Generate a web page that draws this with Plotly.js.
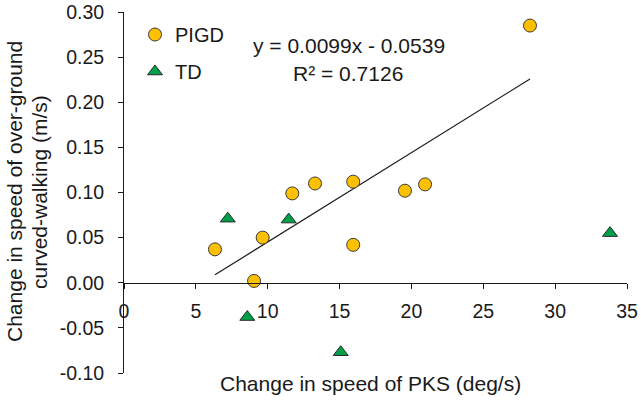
<!DOCTYPE html>
<html>
<head>
<meta charset="utf-8">
<script src="https://cdn.plot.ly/plotly-3.0.1.min.js"></script>
<style>html,body{margin:0;padding:0;background:#fff;}#chart{width:641px;height:400px;}</style>
</head>
<body>
<div id="chart"></div>
<script>
// ---- data ----
var pigdX = [6.33, 9.05, 9.65, 11.71, 13.29, 15.95, 15.95, 19.55, 20.95, 28.25];
var pigdY = [0.037, 0.002, 0.050, 0.099, 0.110, 0.112, 0.042, 0.102, 0.109, 0.285];
var tdX = [7.22, 8.58, 11.46, 15.08, 33.82];
var tdY = [0.071, -0.038, 0.070, -0.077, 0.055];
var slope = 0.0099;
var intercept = -0.0539;
var rSquared = 0.7126;
var seriesNames = ["PIGD", "TD"];
var yTickVals = [-0.10, -0.05, 0.00, 0.05, 0.10, 0.15, 0.20, 0.25, 0.30];
var yTickText = ["-0.10", "-0.05", "0.00", "0.05", "0.10", "0.15", "0.20", "0.25", "0.30"];
var xTitle = "Change in speed of PKS (deg/s)";
var yTitleLines = ["Change in speed of over-ground", "curved-walking (m/s)"];

// trend line across the PIGD x range, from the reported fit
var trendX = [Math.min.apply(null, pigdX), Math.max.apply(null, pigdX)];
var trendY = trendX.map(function (v) { return slope * v + intercept; });

var FONT = "Liberation Sans, Arial, sans-serif";
var TXT = "#1a1a1a";

var traces = [
  {
    x: trendX, y: trendY, type: "scatter", mode: "lines",
    line: { color: "#1a1a1a", width: 1.2 }, showlegend: false, hoverinfo: "skip"
  },
  {
    x: pigdX, y: pigdY, type: "scatter", mode: "markers", name: seriesNames[0],
    legendgroup: "a",
    marker: { symbol: "circle", size: 13, color: "#FFC000", line: { color: "#3a3a3a", width: 1 } }
  },
  {
    x: tdX, y: tdY, type: "scatter", mode: "markers", name: seriesNames[1],
    legendgroup: "b",
    marker: { symbol: "triangle-up", size: 13, color: "#00A04A", line: { color: "#2a2a2a", width: 1 } }
  }
];

var L = 124, R = 14, T = 12, B = 27, W = 641, H = 400;
var pw = W - L - R, ph = H - T - B;
function px(xp) { return (xp - L) / pw; }
function py(yp) { return (H - B - yp) / ph; }

var eqText = "y = " + slope.toFixed(4) + "x - " + Math.abs(intercept).toFixed(4);
var r2Text = "R\u00b2 = " + rSquared.toFixed(4);

var layout = {
  width: W, height: H,
  margin: { l: L, r: R, t: T, b: B, pad: 0 },
  paper_bgcolor: "#ffffff", plot_bgcolor: "#ffffff",
  font: { family: FONT, color: TXT, size: 19 },
  showlegend: true,
  legend: {
    x: px(135), y: py(15), xanchor: "left", yanchor: "top",
    font: { family: FONT, size: 20, color: TXT },
    bgcolor: "rgba(0,0,0,0)", borderwidth: 0,
    traceorder: "grouped", tracegroupgap: 8
  },
  xaxis: {
    range: [0, 35], dtick: 5, tick0: 0,
    showline: true, linecolor: "#1a1a1a", linewidth: 1,
    ticks: "outside", ticklen: 5, tickcolor: "#1a1a1a", tickwidth: 1,
    showgrid: false, zeroline: false,
    anchor: "free", position: 0.25,
    tickfont: { family: FONT, size: 19.5, color: TXT },
    ticklabelstandoff: 6
  },
  yaxis: {
    range: [-0.1, 0.3], tickmode: "array", tickvals: yTickVals, ticktext: yTickText,
    showline: true, linecolor: "#1a1a1a", linewidth: 1,
    ticks: "outside", ticklen: 5, tickcolor: "#1a1a1a", tickwidth: 1,
    showgrid: false, zeroline: false,
    tickfont: { family: FONT, size: 19.5, color: TXT },
    ticklabelstandoff: 10
  },
  annotations: [
    { text: eqText, xref: "paper", yref: "paper", x: px(349), y: py(45),
      xanchor: "center", yanchor: "middle", showarrow: false,
      font: { family: FONT, size: 21, color: TXT } },
    { text: r2Text, xref: "paper", yref: "paper", x: px(348), y: py(73),
      xanchor: "center", yanchor: "middle", showarrow: false,
      font: { family: FONT, size: 21, color: TXT } },
    { text: xTitle, xref: "paper", yref: "paper", x: px(370), y: py(383),
      xanchor: "center", yanchor: "middle", showarrow: false,
      font: { family: FONT, size: 21, color: TXT } },
    { text: yTitleLines[0], xref: "paper", yref: "paper", x: px(14), y: py(192),
      xanchor: "center", yanchor: "middle", showarrow: false, textangle: -90,
      font: { family: FONT, size: 21, color: TXT } },
    { text: yTitleLines[1], xref: "paper", yref: "paper", x: px(39), y: py(192),
      xanchor: "center", yanchor: "middle", showarrow: false, textangle: -90,
      font: { family: FONT, size: 21, color: TXT } }
  ]
};

Plotly.newPlot("chart", traces, layout, { displayModeBar: false, staticPlot: true });
</script>
</body>
</html>
